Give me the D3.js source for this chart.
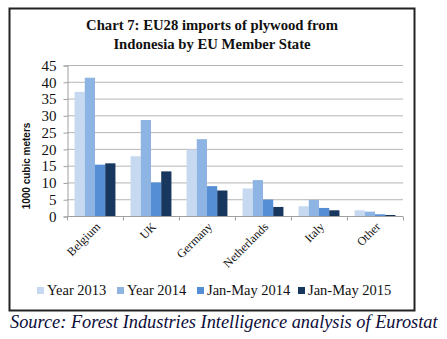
<!DOCTYPE html>
<html><head><meta charset="utf-8">
<script src="https://cdn.jsdelivr.net/npm/d3@7"></script>
<style>body{margin:0;background:#fff}svg{display:block}</style>
</head><body>
<script>
const categories = ["Belgium","UK","Germany","Netherlands","Italy","Other"];
const seriesNames = ["Year 2013","Year 2014","Jan-May 2014","Jan-May 2015"];
const year2013 = [37.0, 17.8, 19.8, 8.2, 2.9, 1.7];
const year2014 = [41.2, 28.6, 22.9, 10.7, 4.8, 1.3];
const janMay2014 = [15.3, 10.0, 8.9, 4.9, 2.4, 0.5];
const janMay2015 = [15.7, 13.3, 7.6, 2.7, 1.7, 0.3];
const yTicks = [0,5,10,15,20,25,30,35,40,45];
const colors = ["#c6d9f1","#8db4e2","#558ed5","#17375e"];
const series = [year2013, year2014, janMay2014, janMay2015];

(function(){
const W = 447, H = 339;
const svg = d3.select("body").append("svg").attr("width", W).attr("height", H);
svg.append("rect").attr("width", W).attr("height", H).attr("fill", "#fff");

// outer frame
svg.append("rect").attr("x", 9.5).attr("y", 8.5).attr("width", 405).attr("height", 302)
  .attr("fill", "none").attr("stroke", "#222").attr("stroke-width", 2);

const serif = "'Liberation Serif', 'Times New Roman', serif";

function fit(sel, target) {
  const w = sel.node().getComputedTextLength();
  const fs = parseFloat(sel.attr("font-size"));
  sel.attr("font-size", fs * target / w);
}

// title
const t1 = svg.append("text").attr("text-anchor", "middle").attr("font-family", serif)
  .attr("font-weight", "bold").attr("font-size", 15).attr("fill", "#111")
  .attr("x", 212).attr("y", 30).text("Chart 7: EU28 imports of plywood from");
fit(t1, 252);
const fsT = t1.attr("font-size");
svg.append("text").attr("text-anchor", "middle").attr("font-family", serif)
  .attr("font-weight", "bold").attr("font-size", fsT).attr("fill", "#111")
  .attr("x", 212).attr("y", 49).text("Indonesia by EU Member State");

const pLeft = 67, pRight = 403, pTop = 65, pBottom = 216;
const x0 = d3.scaleBand().domain(categories).range([pLeft, pRight]).paddingInner(0.27).paddingOuter(0.135);
const x1 = d3.scaleBand().domain(d3.range(4)).range([0, x0.bandwidth()]);
const y = d3.scaleLinear().domain([0, 45]).range([pBottom, pTop]);

// grid
svg.append("g").selectAll("line").data(yTicks.filter(d => d > 0)).join("line")
  .attr("x1", pLeft).attr("x2", pRight).attr("y1", d => y(d) + 0.5).attr("y2", d => y(d) + 0.5)
  .attr("stroke", "#b5b5b5").attr("stroke-width", 1);

// y axis
const yAxis = d3.axisLeft(y).tickValues(yTicks).tickSize(4).tickPadding(7);
const gy = svg.append("g").attr("transform", `translate(${pLeft + 0.5},0.5)`).call(yAxis);
gy.select(".domain").attr("stroke", "#a0a0a0");
gy.selectAll(".tick line").attr("stroke", "#a0a0a0");
gy.selectAll(".tick text").attr("font-family", serif).attr("font-size", 15).attr("fill", "#111");

// bars
const groups = svg.append("g").selectAll("g").data(categories).join("g")
  .attr("transform", d => `translate(${x0(d)},0)`);
groups.selectAll("rect").data((d, i) => series.map((s, k) => ({k, v: s[i]}))).join("rect")
  .attr("x", d => x1(d.k)).attr("width", x1.bandwidth())
  .attr("y", d => y(d.v)).attr("height", d => y(0) - y(d.v))
  .attr("fill", d => colors[d.k]);

// x axis
const xStep = x0.step();
const gx = svg.append("g").attr("transform", `translate(0,${pBottom + 0.5})`);
gx.append("line").attr("x1", pLeft).attr("x2", pRight).attr("stroke", "#a0a0a0");
gx.selectAll("line.t").data(d3.range(categories.length + 1)).join("line").attr("class", "t")
  .attr("x1", i => pLeft + i * xStep + 0.5).attr("x2", i => pLeft + i * xStep + 0.5)
  .attr("y1", 0).attr("y2", 4).attr("stroke", "#a0a0a0");
gx.selectAll("text").data(categories).join("text")
  .attr("font-family", serif).attr("font-size", 12).attr("fill", "#111").attr("text-anchor", "end")
  .attr("transform", d => `translate(${x0(d) + x0.bandwidth() / 2 + 6},${11}) rotate(-45)`)
  .text(d => d);

// y label
svg.append("text").attr("transform", "translate(30,166) rotate(-90)").attr("text-anchor", "middle")
  .attr("font-family", "'Liberation Sans', Arial, sans-serif").attr("font-weight", "bold")
  .attr("font-size", 10).attr("fill", "#111").text("1000 cubic meters");

// legend
const legX = [37, 117, 197, 298];
const leg = svg.append("g").selectAll("g").data(seriesNames).join("g")
  .attr("transform", (d, i) => `translate(${legX[i]},0)`);
leg.append("rect").attr("x", 0).attr("y", 287).attr("width", 7).attr("height", 7)
  .attr("fill", (d, i) => colors[i]);
leg.append("text").attr("x", 10).attr("y", 295).attr("font-family", serif)
  .attr("font-size", 14.5).attr("fill", "#111").text(d => d);

// source
const src = svg.append("text").attr("x", 10).attr("y", 328).attr("font-family", serif)
  .attr("font-style", "italic").attr("font-size", 17).attr("fill", "#0d0d3a")
  .text("Source: Forest Industries Intelligence analysis of Eurostat");
fit(src, 428);
})();
</script>
</body></html>
